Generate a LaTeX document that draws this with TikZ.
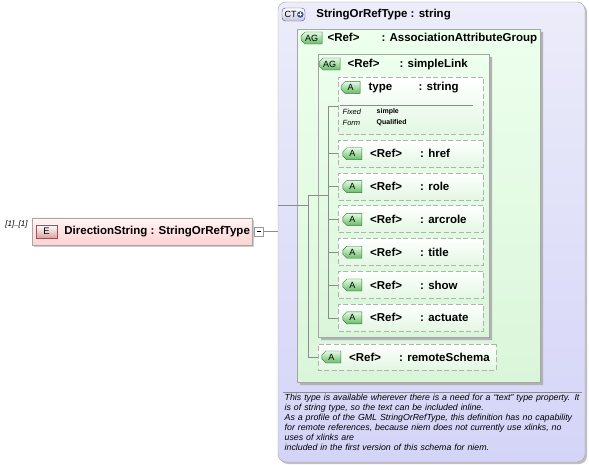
\documentclass[tikz,border=0pt]{standalone}
\usepackage{fontspec}
\setmainfont{Liberation Sans}
\usetikzlibrary{shapes.misc, positioning, shadows}
\definecolor{ctTop}{HTML}{ECECFA}
\definecolor{ctBot}{HTML}{D4D4F8}
\definecolor{agTop}{HTML}{EDFFED}
\definecolor{agBot}{HTML}{DAF6DA}
\definecolor{attBot}{HTML}{E2F7E2}
\definecolor{badgeTop}{HTML}{E4FAE4}
\definecolor{badgeBot}{HTML}{66BD66}
\definecolor{badgeLine}{HTML}{357535}
\definecolor{elTop}{HTML}{FFF4F4}
\definecolor{elBot}{HTML}{FFD2D2}
\definecolor{eLine}{HTML}{B04848}
\definecolor{ctLine}{HTML}{4A4A9A}
\newcommand{\refrow}[2]{\makebox[#1]{<Ref>\hfill}: #2}

\begin{document}
\begin{tikzpicture}[
    x=1pt, y=-1pt,
    ctbox/.style={rectangle, draw=black!35, rounded corners=8pt, top color=ctTop, bottom color=ctBot, inner sep=0pt,
        drop shadow={shadow xshift=2pt, shadow yshift=-2pt, fill=black!25, opacity=1}},
    agbox/.style={chamfered rectangle, chamfered rectangle corners={north west, south west}, chamfered rectangle sep=9pt,
        draw=black!35, top color=agTop, bottom color=agBot, inner sep=0pt,
        drop shadow={shadow xshift=3pt, shadow yshift=-3pt, fill=black!30, opacity=1}},
    attbox/.style={chamfered rectangle, chamfered rectangle corners={north west, south west}, chamfered rectangle sep=7pt,
        draw=black!30, dashed, dash pattern=on 5pt off 2.5pt, line width=0.8pt, top color=white, bottom color=attBot,
        inner sep=0pt, minimum width=145pt, minimum height=27pt},
    abadge/.style={chamfered rectangle, chamfered rectangle corners={north west, south west}, chamfered rectangle sep=2pt,
        draw=badgeLine, top color=badgeTop, bottom color=badgeBot, inner sep=0pt, minimum width=19pt, minimum height=12pt,
        font=\fontsize{9}{10}\selectfont},
    ebadge/.style={rectangle, draw=eLine, top color=white, bottom color=eLine!50, inner sep=0pt,
        minimum width=21pt, minimum height=13pt, font=\fontsize{9.5}{10}\selectfont},
    ctbadge/.style={rectangle, rounded corners=3.5pt, draw=ctLine, top color=white, bottom color=ctLine!30, inner sep=0pt,
        minimum width=23pt, minimum height=13pt},
    elembox/.style={rectangle, draw=black!35, top color=elTop, bottom color=elBot, inner sep=0pt,
        drop shadow={shadow xshift=2pt, shadow yshift=-2pt, fill=black!20, opacity=1}},
    lbl/.style={inner sep=0pt, font=\bfseries\fontsize{11.5}{12}\selectfont},
    tree/.style={draw=black!45, line width=0.6pt},
    sepline/.style={draw=black!45, line width=0.6pt},
    fixlbl/.style={inner sep=0pt, font=\itshape\fontsize{7.5}{8}\selectfont},
    fixval/.style={inner sep=0pt, font=\bfseries\fontsize{7}{8}\selectfont},
    desc/.style={inner sep=0pt, text width=300pt, align=left, font=\itshape\fontsize{8.8}{10}\selectfont}
]
\useasboundingbox (0,0) rectangle (589,465);

\node[ctbox, minimum width=307pt, minimum height=460pt] (ct) at (431.5,232) {};
\node[ctbadge] (ctB) at (293.5,14.5) {};
\node[inner sep=0pt, font=\fontsize{9}{10}\selectfont, right=2.5pt of ctB.west] (ctT) {CT};
\node[circle, fill=ctLine, inner sep=0pt, minimum size=6.5pt, left=1.5pt of ctB.east] (ctplus) {};
\draw[white, line width=0.9pt] (ctplus.west) ++(1.2,0) -- ++(4.1,0) (ctplus.north) ++(0,1.2) -- ++(0,4.1);
\node[lbl, right=11pt of ctB] (cttitle) {StringOrRefType : string};

\node[agbox, minimum width=243pt, minimum height=353pt] (outag) at (418.5,205.5) {};
\node[abadge, minimum width=21pt, below right=5pt and 6pt of outag.north west] (outagB) {AG};
\node[lbl, right=5pt of outagB] {\refrow{54pt}{AssociationAttributeGroup}};

\node[agbox, minimum width=171pt, minimum height=283pt] (inag) at (403.5,195.5) {};
\node[abadge, minimum width=21pt, below right=6pt and 3pt of inag.north west] (inagB) {AG};
\node[lbl, right=7pt of inagB] {\refrow{52pt}{simpleLink}};

\node[attbox, minimum height=57pt] (type) at (410.5,106) {};
\node[abadge, below right=6pt and 5pt of type.north west] (typeA) {A};
\node[lbl, right=8pt of typeA] {\makebox[50pt]{type\hfill}: string};
\draw[sepline] (340,105) -- (473,105);
\node[fixlbl, anchor=west] (fixed) at (342.5,112) {Fixed};
\node[fixval, anchor=west] (fixedV) at (376.5,112) {simple};
\node[fixlbl, anchor=west] (form) at (342.5,122.5) {Form};
\node[fixval, anchor=west] (formV) at (376.5,122.5) {Qualified};

\node[attbox, below=5pt of type] (href) {};
\node[abadge, right=5pt of href.west] (hrefA) {A};
\node[lbl, right=8pt of hrefA] {\refrow{50pt}{href}};

\node[attbox, below=5pt of href] (role) {};
\node[abadge, right=5pt of role.west] (roleA) {A};
\node[lbl, right=8pt of roleA] {\refrow{50pt}{role}};

\node[attbox, below=5pt of role] (arcrole) {};
\node[abadge, right=5pt of arcrole.west] (arcroleA) {A};
\node[lbl, right=8pt of arcroleA] {\refrow{50pt}{arcrole}};

\node[attbox, below=5pt of arcrole] (title) {};
\node[abadge, right=5pt of title.west] (titleA) {A};
\node[lbl, right=8pt of titleA] {\refrow{50pt}{title}};

\node[attbox, below=5pt of title] (show) {};
\node[abadge, right=5pt of show.west] (showA) {A};
\node[lbl, right=8pt of showA] {\refrow{50pt}{show}};

\node[attbox, below=5pt of show] (actuate) {};
\node[abadge, right=5pt of actuate.west] (actuateA) {A};
\node[lbl, right=8pt of actuateA] {\refrow{50pt}{actuate}};

\node[attbox, minimum width=178pt, minimum height=26pt] (remote) at (407,357) {};
\node[abadge, right=4pt of remote.west] (remoteA) {A};
\node[lbl, right=8pt of remoteA] {\refrow{50pt}{remoteSchema}};

\node[desc, anchor=north west] (doc) at (284.5,393.5) {This type is available wherever there is a need for a ``text'' type property. It\\
is of string type, so the text can be included inline.\\
As a profile of the GML StringOrRefType, this definition has no capability\\
for remote references, because niem does not currently use xlinks, no\\
uses of xlinks are\\
included in the first version of this schema for niem.};
\draw[sepline] (283,392) -- (582,392);

\node[elembox, minimum width=220pt, minimum height=27pt] (elem) at (142,231.5) {};
\node[ebadge, right=4pt of elem.west] (elemE) {E};
\node[lbl, right=7pt of elemE] (elemname) {DirectionString : StringOrRefType};
\node[draw=black!40, fill=white, inner sep=0pt, minimum size=9pt, right=2pt of elem] (minus) {\rule{4.5pt}{0.6pt}};
\node[inner sep=0pt, font=\itshape\fontsize{8}{9}\selectfont, left=4pt of elem.west, yshift=7pt] (mult) {[1]..[1]};

\coordinate (spine) at (308,0);
\coordinate (fork) at (328,0);
\draw[tree] (minus.east) -- (minus.east -| ct.west);
\draw[tree] (ct.west |- outag.west) -- (spine |- outag.west);
\draw[tree] (spine |- inag.west) -- (spine |- remote.west) -- (remote.west);
\draw[tree] (spine |- inag.west) -- (fork |- inag.west);
\draw[tree] (fork |- type.west) -- (fork |- actuate.west);
\draw[tree] (fork |- type.west) -- (type.west);
\draw[tree] (fork |- href.west) -- (href.west);
\draw[tree] (fork |- role.west) -- (role.west);
\draw[tree] (fork |- arcrole.west) -- (arcrole.west);
\draw[tree] (fork |- title.west) -- (title.west);
\draw[tree] (fork |- show.west) -- (show.west);
\draw[tree] (fork |- actuate.west) -- (actuate.west);

\end{tikzpicture}
\end{document}
